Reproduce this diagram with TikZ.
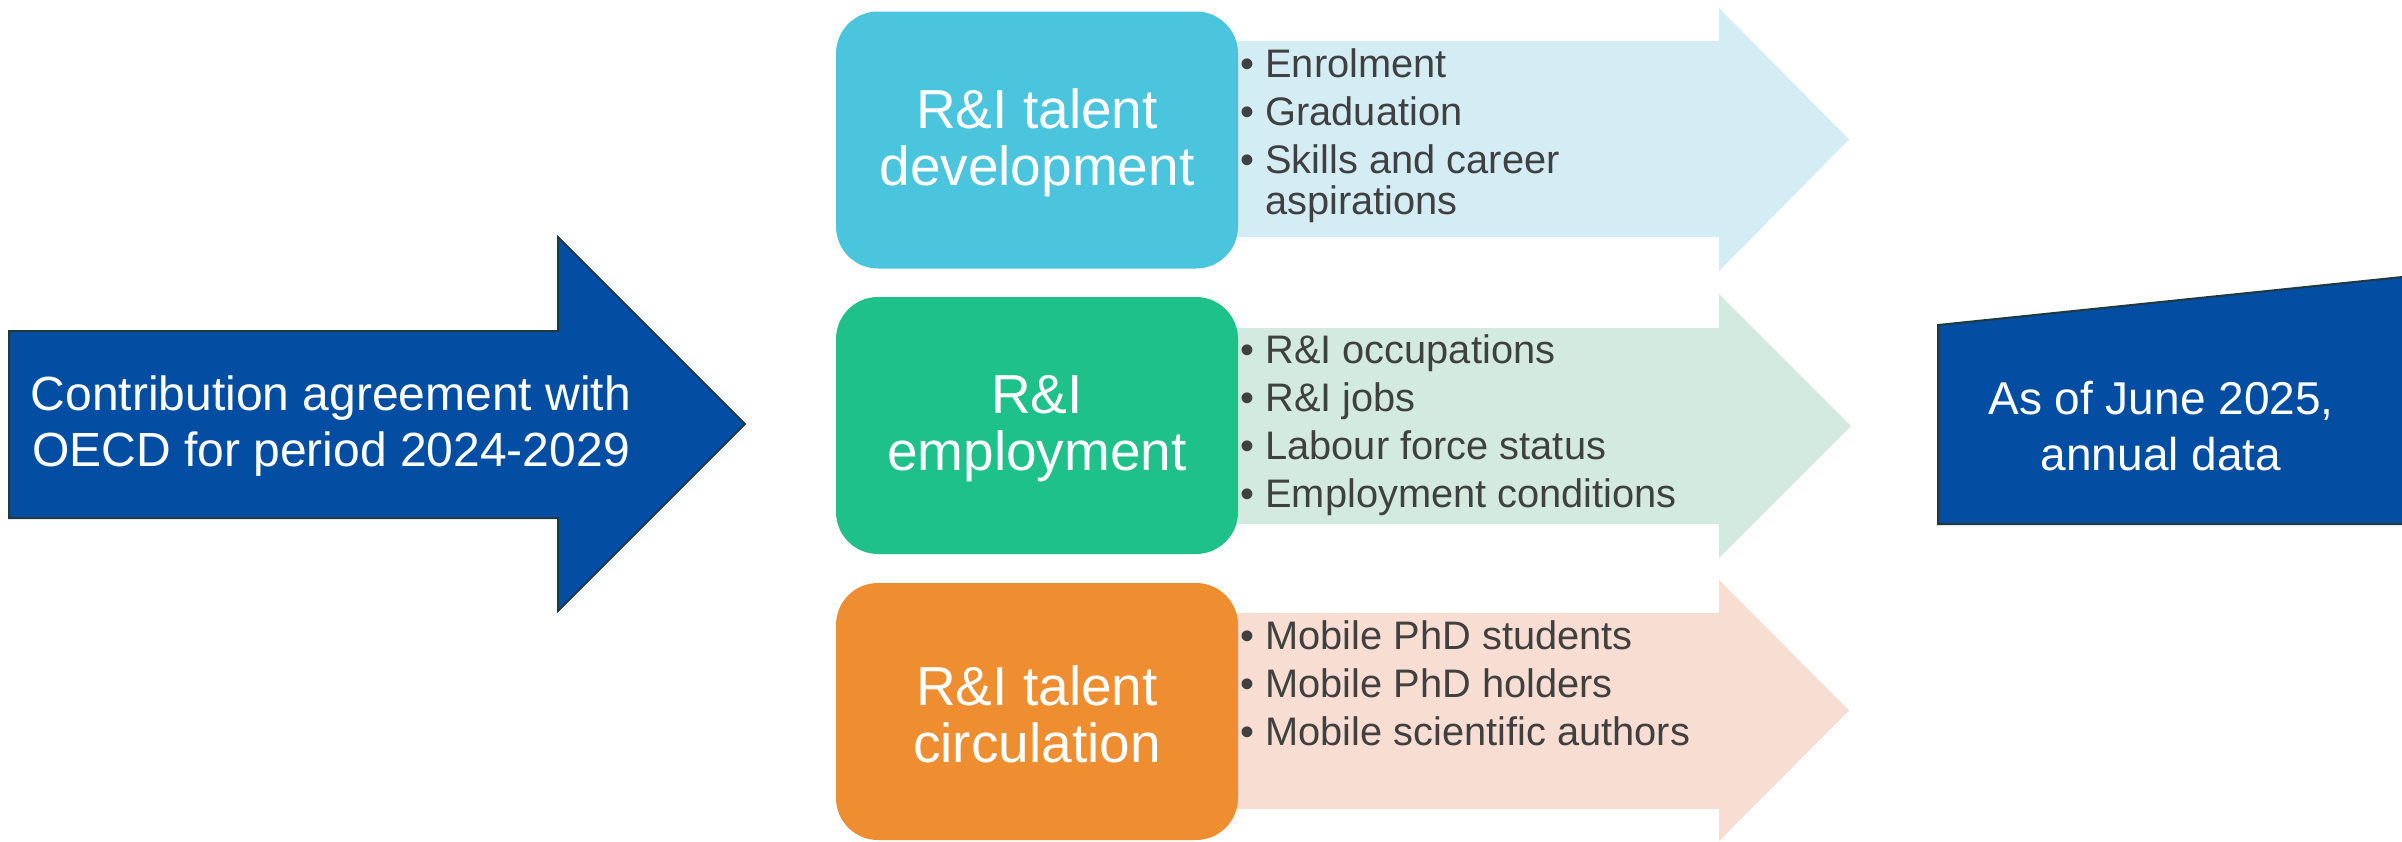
\documentclass[tikz,border=0pt]{standalone}
\usepackage{fontspec}
\setmainfont{Liberation Sans}
\usetikzlibrary{positioning}

\definecolor{oecdblue}{RGB}{3,78,162}
\definecolor{edgedark}{RGB}{30,58,64}
\definecolor{devcyan}{RGB}{75,196,222}
\definecolor{devlight}{RGB}{212,237,244}
\definecolor{empgreen}{RGB}{30,193,138}
\definecolor{emplight}{RGB}{210,234,223}
\definecolor{circorange}{RGB}{238,142,49}
\definecolor{circlight}{RGB}{247,221,210}
\definecolor{bulletgray}{RGB}{64,64,64}

\tikzset{
  bigtext/.style={text=white, align=center, inner sep=0pt, font=\fontsize{24pt}{28pt}\selectfont},
  pillar/.style={rounded corners=21pt, minimum width=201pt, minimum height=128.5pt, inner sep=0pt},
  pillartext/.style={text=white, align=center, inner sep=0pt, font=\fontsize{27.5pt}{28.5pt}\selectfont},
  bulletlist/.style={anchor=base west, inner sep=0pt, text=bulletgray, font=\fontsize{19.9pt}{20.5pt}\selectfont},
  blueshape/.style={fill=oecdblue, draw=edgedark, line width=1pt}
}
\newcommand{\bitem}{\makebox[12.5pt][l]{\textbullet}}

\begin{document}
\begin{tikzpicture}[x=0.5pt,y=0.5pt,yscale=-1,xscale=1]
\useasboundingbox (0,0) rectangle (2402,841);

%Left arrow
\draw [blueshape] (9,331) -- (558,331) -- (558,237) -- (745,424) -- (558,611) -- (558,518) -- (9,518) -- cycle;
% Text Node
\node [bigtext] (contract) at (331,426.5) {Contribution agreement with\\OECD for period 2024-2029};

%Light arrows
\fill [devlight] (1200,41) -- (1719,41) -- (1719,8) -- (1849,139.5) -- (1719,271) -- (1719,237) -- (1200,237) -- cycle;
\fill [emplight] (1200,328) -- (1719,328) -- (1719,294) -- (1851,426) -- (1719,558) -- (1719,524) -- (1200,524) -- cycle;
\fill [circlight] (1200,613) -- (1719,613) -- (1719,580) -- (1849,710.5) -- (1719,841) -- (1719,809) -- (1200,809) -- cycle;

%Rounded boxes
\node [pillar, fill=devcyan] (develop) at (1037,140) {};
\node [pillar, fill=empgreen] (employ) at (1037,425.5) {};
\node [pillar, fill=circorange] (circul) at (1037,711.5) {};
% Text Node
\node [pillartext] (developtxt) at ([yshift=1.6pt]develop.center) {R\&I talent\\development};
\node [pillartext] (employtxt) at ([yshift=1.6pt]employ.center) {R\&I\\employment};
\node [pillartext] (circultxt) at ([yshift=1.6pt]circul.center) {R\&I talent\\circulation};

% Text Node
\node [bulletlist] (devlist) at (1240,77) {\begin{tabular}[t]{@{}l@{}l@{}}
\bitem & Enrolment\\[3.5pt]
\bitem & Graduation\\[3.5pt]
\bitem & Skills and career\\
 & aspirations
\end{tabular}};
% Text Node
\node [bulletlist] (emplist) at (1240,363) {\begin{tabular}[t]{@{}l@{}l@{}}
\bitem & R\&I occupations\\[3.5pt]
\bitem & R\&I jobs\\[3.5pt]
\bitem & Labour force status\\[3.5pt]
\bitem & Employment conditions
\end{tabular}};
% Text Node
\node [bulletlist] (circlist) at (1240,649) {\begin{tabular}[t]{@{}l@{}l@{}}
\bitem & Mobile PhD students\\[3.5pt]
\bitem & Mobile PhD holders\\[3.5pt]
\bitem & Mobile scientific authors
\end{tabular}};

%Right shape
\draw [blueshape] (1938,325) -- (2412,276) -- (2412,524) -- (1938,524) -- cycle;
% Text Node
\node [bigtext, font=\fontsize{23pt}{28pt}\selectfont] (asof) at (2161,426) {As of June 2025,\\annual data};

\end{tikzpicture}
\end{document}
